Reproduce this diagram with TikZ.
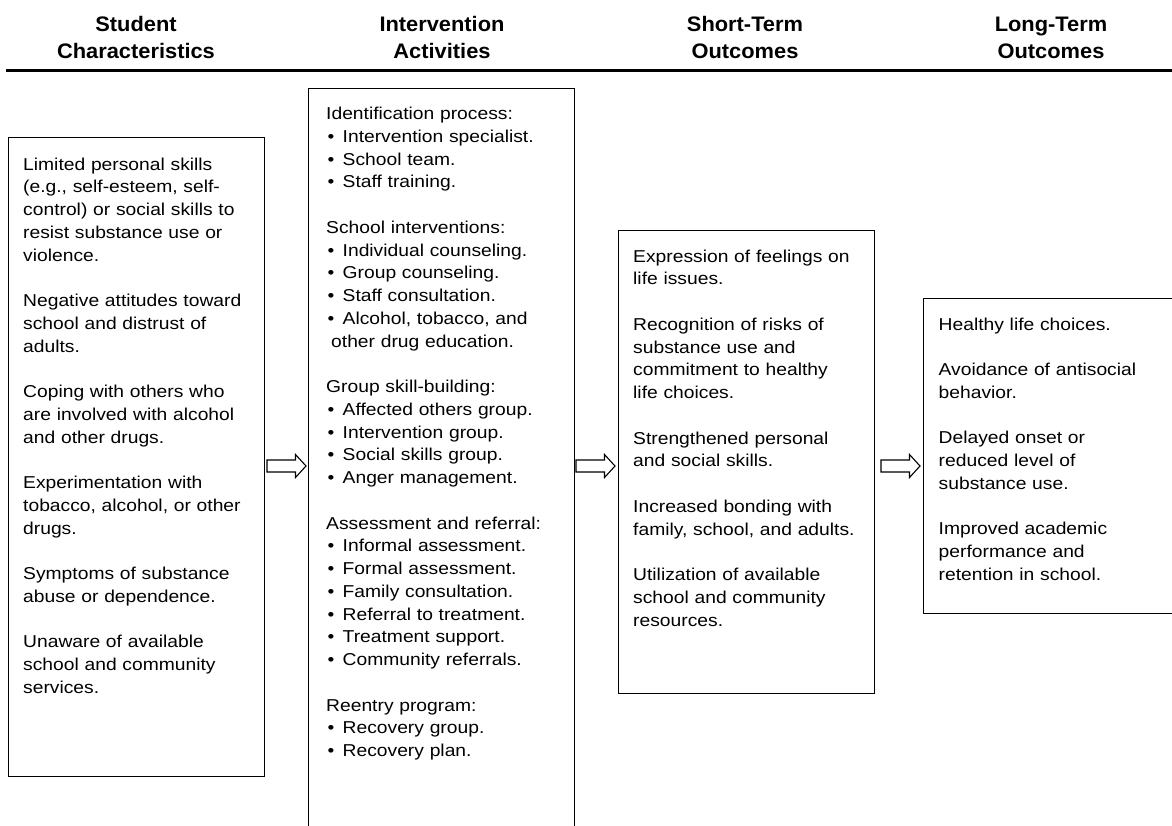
\documentclass[tikz,border=0pt]{standalone}
\usepackage{fontspec}
\setmainfont{Liberation Sans}[FakeStretch=1.12]
\newfontfamily\headfont{Liberation Sans}[FakeStretch=1.04]
\newcommand{\bul}{\makebox[16.5pt][l]{\hspace{1.5pt}•}}
\newcommand{\bodyfont}{\fontsize{17.2}{22.75}\selectfont}
\newcommand{\gap}{\\[22.75pt]}
\tikzset{
  box/.style={draw=black, line width=1.2pt, anchor=north west, inner sep=0pt},
  boxtext/.style={anchor=base west, inner sep=0pt, text width=260pt, align=left, font=\bodyfont},
  headtext/.style={anchor=base, inner sep=0pt, text width=220pt, align=center, font=\headfont\bfseries\fontsize{21}{26.6}\selectfont},
  blockarrow/.style={draw=black, line width=1.1pt, fill=white, line join=miter}
}
\newcommand{\blockarrowpath}[1]{%
  \draw[blockarrow] (#1) ++(0,-6) -- ++(28.5,0) -- ++(0,-5.5) -- ++(10.5,11.5)
    -- ++(-10.5,11.5) -- ++(0,-5.5) -- ++(-28.5,0) -- cycle;}
\begin{document}
\begin{tikzpicture}[x=1pt,y=-1pt]
\useasboundingbox (0,0) rectangle (1172,825);
\clip (0,0) rectangle (1172,825);

% headers
\node[headtext] (h1) at (136,31.7) {Student\\Characteristics};
\node[headtext] (h2) at (442,31.7) {Intervention\\Activities};
\node[headtext] (h3) at (745,31.7) {Short-Term\\Outcomes};
\node[headtext] (h4) at (1051,31.7) {Long-Term\\Outcomes};
\coordinate (rl) at (6,70);
\coordinate (rr) at (1172,70);
\draw[line width=3pt] (rl) -- (rr);

% boxes
\node[box, minimum width=256pt, minimum height=639pt] (b1) at (8,137) {};
\node[box, minimum width=266pt, minimum height=750pt] (b2) at (308,88) {};
\node[box, minimum width=256pt, minimum height=463pt] (b3) at (618,230) {};
\node[box, minimum width=260pt, minimum height=315pt] (b4) at (923,298) {};

% texts
\node[boxtext] (t1) at (23,170) {Limited personal skills\\
(e.g., self-esteem, self-\\
control) or social skills to\\
resist substance use or\\
violence.\gap
Negative attitudes toward\\
school and distrust of\\
adults.\gap
Coping with others who\\
are involved with alcohol\\
and other drugs.\gap
Experimentation with\\
tobacco, alcohol, or other\\
drugs.\gap
Symptoms of substance\\
abuse or dependence.\gap
Unaware of available\\
school and community\\
services.};

\node[boxtext] (t2) at (326,119.5) {Identification process:\\
\bul Intervention specialist.\\
\bul School team.\\
\bul Staff training.\gap
School interventions:\\
\bul Individual counseling.\\
\bul Group counseling.\\
\bul Staff consultation.\\
\bul Alcohol, tobacco, and\\
\hspace*{5pt}other drug education.\gap
Group skill-building:\\
\bul Affected others group.\\
\bul Intervention group.\\
\bul Social skills group.\\
\bul Anger management.\gap
Assessment and referral:\\
\bul Informal assessment.\\
\bul Formal assessment.\\
\bul Family consultation.\\
\bul Referral to treatment.\\
\bul Treatment support.\\
\bul Community referrals.\gap
Reentry program:\\
\bul Recovery group.\\
\bul Recovery plan.};

\node[boxtext] (t3) at (633,262) {Expression of feelings on\\
life issues.\gap
Recognition of risks of\\
substance use and\\
commitment to healthy\\
life choices.\gap
Strengthened personal\\
and social skills.\gap
Increased bonding with\\
family, school, and adults.\gap
Utilization of available\\
school and community\\
resources.};

\node[boxtext] (t4) at (938.5,330) {Healthy life choices.\gap
Avoidance of antisocial\\
behavior.\gap
Delayed onset or\\
reduced level of\\
substance use.\gap
Improved academic\\
performance and\\
retention in school.};

% block arrows between the columns
\coordinate (a1) at (267,466);
\coordinate (a2) at (576,466);
\coordinate (a3) at (881,466);
\blockarrowpath{a1}
\blockarrowpath{a2}
\blockarrowpath{a3}
\end{tikzpicture}
\end{document}
